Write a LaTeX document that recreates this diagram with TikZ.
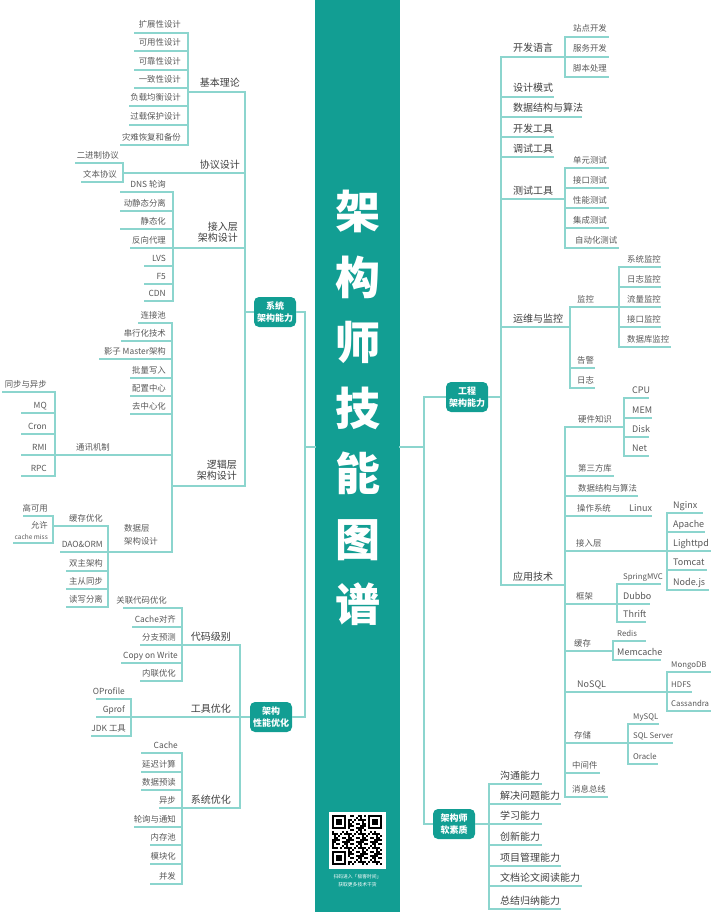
\documentclass[tikz,border=0pt]{standalone}
\usepackage{fontspec}
\setmainfont{Noto Sans CJK SC}
\definecolor{tealA}{RGB}{18,158,147}
\definecolor{lnc}{RGB}{140,213,206}
\definecolor{txtA}{RGB}{62,62,62}
\definecolor{txtB}{RGB}{88,88,88}
\tikzset{
 ln/.style={draw=lnc, line width=1.2pt, line cap=rect},
 ltwo/.style={font=\fontsize{10}{11}\selectfont, text=txtA, inner sep=0pt},
 lthree/.style={font=\fontsize{8.4}{10}\selectfont, text=txtB, inner sep=0pt},
 lthreeL/.style={font=\fontsize{9}{10}\selectfont, text=txtB, inner sep=0pt},
 lsmall/.style={font=\fontsize{7.8}{9}\selectfont, text=txtB, inner sep=0pt},
 topbox/.style={fill=tealA, rounded corners=5pt, minimum width=42pt, minimum height=30pt, text=white, font=\fontsize{9}{11.5}\selectfont\bfseries, align=center, inner sep=0pt},
}
% [style]{name}{x1}{x2}{y}{text x}{text}
\newcommand\leafL[7][lthree]{\draw[ln] (#3,#5) -- (#4,#5); \node[#1, anchor=base east] (#2) at (#6,#5-5) {#7};}
\newcommand\leafR[7][lthree]{\draw[ln] (#3,#5) -- (#4,#5); \node[#1, anchor=base west] (#2) at (#6,#5-5) {#7};}
\begin{document}
\begin{tikzpicture}[x=1pt,y=-1pt]
\useasboundingbox (0,0) rectangle (713,923);
% central band
\fill[tealA] (315,0) rectangle (400,912);
\node[font=\fontsize{45}{65.5}\selectfont\bfseries, text=white, align=center, inner sep=0pt] (title) at (357.5,408) {架\\构\\师\\技\\能\\图\\谱};

% ---------- top-level boxes ----------
\node[topbox] (sys) at (275,312) {系统\\架构能力};
\node[topbox] (perf) at (271,717) {架构\\性能优化};
\node[topbox] (eng) at (467,397) {工程\\架构能力};
\node[topbox] (soft) at (454,824) {架构师\\软素质};
\draw[ln] (sys.east) -- (305,312);
\draw[ln] (305,312) -- (305,717);
\draw[ln] (perf.east) -- (305,717);
\draw[ln] (305,447) -- (315,447);
\draw[ln] (400,447) -- (424,447);
\draw[ln] (424,397) -- (424,824);
\draw[ln] (424,397) -- (eng.west);
\draw[ln] (424,824) -- (soft.west);

% ---------- 系统架构能力 ----------
\draw[ln] (sys.west) -- (245,312);
\draw[ln] (245,92) -- (245,486);
\leafL[ltwo]{jbll}{188}{245}{92}{240}{基本理论}
\draw[ln] (188,33) -- (188,145);
\leafL{k1}{135}{188}{33}{181}{扩展性设计}
\leafL{k2}{135}{188}{51}{181}{可用性设计}
\leafL{k3}{135}{188}{70}{181}{可靠性设计}
\leafL{k4}{135}{188}{88}{181}{一致性设计}
\leafL{k5}{130}{188}{106}{181}{负载均衡设计}
\leafL{k6}{130}{188}{125}{181}{过载保护设计}
\leafL{k7}{121}{188}{145}{181}{灾难恢复和备份}

\leafL[ltwo]{xysj}{123}{245}{173}{240}{协议设计}
\draw[ln] (123,163) -- (123,182);
\leafL{x1}{76}{123}{163}{119}{二进制协议}
\leafL{x2}{82}{123}{182}{117}{文本协议}

\draw[ln] (173,248) -- (245,248);
\node[ltwo, align=right, anchor=east] (jrc) at (238,232.5) {接入层\\架构设计};
\draw[ln] (173,192) -- (173,301);
\leafL{j1}{121}{173}{192}{166}{DNS 轮询}
\leafL{j2}{121}{173}{211}{166}{动静态分离}
\leafL{j3}{121}{173}{229}{166}{静态化}
\leafL{j4}{131}{173}{248}{166}{反向代理}
\leafL{j5}{145}{173}{266}{166}{LVS}
\leafL{j6}{145}{173}{284}{166}{F5}
\leafL{j7}{145}{173}{301}{166}{CDN}

\draw[ln] (172,486) -- (245,486);
\node[ltwo, align=right, anchor=east] (ljc) at (237,470.5) {逻辑层\\架构设计};
\draw[ln] (172,323) -- (172,552);
\leafL{l1}{139}{172}{323}{166}{连接池}
\leafL{l2}{122}{172}{341}{166}{串行化技术}
\leafL{l3}{100}{172}{359}{166}{影子 Master架构}
\leafL{l4}{131}{172}{378}{166}{批量写入}
\leafL{l5}{131}{172}{396}{166}{配置中心}
\leafL{l6}{131}{172}{414}{166}{去中心化}
\draw[ln] (55,455) -- (172,455);
\node[lthree, anchor=base west] (txjz) at (76,450) {通讯机制};
\draw[ln] (55,392) -- (55,476);
\leafL{tx1}{3}{55}{392}{47}{同步与异步}
\leafL{tx2}{22}{55}{413}{47}{MQ}
\leafL{tx3}{22}{55}{434}{47}{Cron}
\leafL{tx4}{22}{55}{455}{47}{RMI}
\leafL{tx5}{22}{55}{476}{47}{RPC}

\draw[ln] (108,552) -- (172,552);
\node[lthree, font=\fontsize{8.4}{13}\selectfont, align=left, anchor=west] (sjc) at (124,534.5) {数据层\\架构设计};
\draw[ln] (108,526) -- (108,607);
\leafL{d1}{53}{108}{526}{103}{缓存优化}
\draw[ln] (53,516) -- (53,543);
\leafL{d11}{24}{53}{516}{48}{高可用}
\draw[ln] (14,543) -- (53,543);
\node[lthree, anchor=base east] (d12) at (48,528.5) {允许};
\node[font=\fontsize{6.5}{8}\selectfont, text=txtB, inner sep=0pt, anchor=base east] (d13) at (48,539.5) {cache miss};
\leafL{d2}{61}{108}{552}{103}{DAO\&ORM}
\leafL{d3}{67}{108}{571}{103}{双主架构}
\leafL{d4}{67}{108}{589}{103}{主从同步}
\leafL{d5}{67}{108}{607}{103}{读写分离}

% ---------- 架构性能优化 ----------
\draw[ln] (perf.west) -- (240,717);
\draw[ln] (240,645) -- (240,808);
\leafL[ltwo]{dmjb}{182}{240}{645}{231}{代码级别}
\draw[ln] (182,608) -- (182,681);
\leafL{c1}{124}{182}{608}{167}{关联代码优化}
\leafL{c2}{133}{182}{627}{176}{Cache对齐}
\leafL{c3}{141}{182}{645}{176}{分支预测}
\leafL{c4}{122}{182}{663}{178}{Copy on Write}
\leafL{c5}{141}{182}{681}{176}{内联优化}
\leafL[ltwo]{gjyh}{131}{240}{717}{231}{工具优化}
\draw[ln] (131,699) -- (131,736);
\leafL{g1}{97}{131}{699}{125}{OProfile}
\leafL{g2}{97}{131}{717}{125}{Gprof}
\leafL{g3}{92}{131}{736}{126}{JDK 工具}
\leafL[ltwo]{xtyh}{182}{240}{808}{231}{系统优化}
\draw[ln] (182,753) -- (182,884);
\leafL{s1}{142}{182}{753}{178}{Cache}
\leafL{s2}{142}{182}{772}{176}{延迟计算}
\leafL{s3}{142}{182}{790}{176}{数据预读}
\leafL{s4}{160}{182}{808}{176}{异步}
\leafL{s5}{135}{182}{827}{176}{轮询与通知}
\leafL{s6}{151}{182}{845}{176}{内存池}
\leafL{s7}{151}{182}{864}{176}{模块化}
\leafL{s8}{151}{182}{884}{176}{并发}

% ---------- 工程架构能力 ----------
\draw[ln] (eng.east) -- (501,397);
\draw[ln] (501,57) -- (501,585);
\leafR[ltwo]{kfyy}{501}{565}{57}{513}{开发语言}
\draw[ln] (565,37) -- (565,77);
\leafR{rk1}{565}{608}{37}{573}{站点开发}
\leafR{rk2}{565}{608}{57}{573}{服务开发}
\leafR{rk3}{565}{608}{77}{573}{脚本处理}
\leafR[ltwo]{sjms}{501}{553}{97}{513}{设计模式}
\leafR[ltwo]{sjjg}{501}{581}{117}{513}{数据结构与算法}
\leafR[ltwo]{kfgj}{501}{553}{137}{513}{开发工具}
\leafR[ltwo]{tsgj}{501}{553}{157}{513}{调试工具}
\leafR[ltwo]{csgj}{501}{565}{199}{513}{测试工具}
\draw[ln] (565,168) -- (565,248);
\leafR{rc1}{565}{608}{168}{573}{单元测试}
\leafR{rc2}{565}{608}{188}{573}{接口测试}
\leafR{rc3}{565}{608}{208}{573}{性能测试}
\leafR{rc4}{565}{608}{228}{573}{集成测试}
\leafR{rc5}{565}{618}{248}{575}{自动化测试}
\leafR[ltwo]{ywjk}{501}{570}{327}{513}{运维与监控}
\draw[ln] (570,307) -- (570,388);
\leafR{jk}{570}{619}{307}{577}{监控}
\draw[ln] (619,267) -- (619,347);
\leafR{jk1}{619}{660}{267}{627}{系统监控}
\leafR{jk2}{619}{660}{287}{627}{日志监控}
\leafR{jk3}{619}{660}{307}{627}{流量监控}
\leafR{jk4}{619}{660}{327}{627}{接口监控}
\leafR{jk5}{619}{670}{347}{627}{数据库监控}
\leafR{gj}{570}{594}{368}{577}{告警}
\leafR{rz}{570}{594}{388}{577}{日志}
\leafR[ltwo]{yyjs}{501}{565}{585}{513}{应用技术}
\draw[ln] (565,427) -- (565,797);
\leafR{yj}{565}{624}{427}{578}{硬件知识}
\draw[ln] (624,398) -- (624,456);
\leafR[lthreeL]{cpu}{624}{648}{398}{632}{CPU}
\leafR[lthreeL]{mem}{624}{651}{418}{632}{MEM}
\leafR[lthreeL]{disk}{624}{648}{437}{632}{Disk}
\leafR[lthreeL]{net}{624}{648}{456}{632}{Net}
\leafR{dsf}{565}{613}{476}{578}{第三方库}
\leafR{sjjgb}{565}{637}{496}{578}{数据结构与算法}
\leafR{czxt}{565}{615}{516}{577}{操作系统}
\leafR[lthreeL]{linux}{615}{651}{516}{629}{Linux}
\leafR{jrcb}{565}{667}{551}{576}{接入层}
\draw[ln] (667,513) -- (667,590);
\leafR[lthreeL]{ngx}{667}{702}{513}{673}{Nginx}
\leafR[lthreeL]{apc}{667}{704}{532}{673}{Apache}
\leafR[lthreeL]{lig}{667}{710}{551}{673}{Lighttpd}
\leafR[lthreeL]{tom}{667}{706}{570}{673}{Tomcat}
\leafR[lthreeL]{nodejs}{667}{708}{590}{673}{Node.js}
\leafR{kj}{565}{617}{604}{576}{框架}
\draw[ln] (617,584) -- (617,622);
\leafR[lsmall]{spr}{617}{660}{584}{623}{SpringMVC}
\leafR[lthreeL]{dub}{617}{649}{604}{623}{Dubbo}
\leafR[lthreeL]{thr}{617}{645}{622}{623}{Thrift}
\leafR{hc}{565}{613}{651}{574}{缓存}
\draw[ln] (613,641) -- (613,660);
\leafR[lsmall]{red}{613}{645}{641}{617}{Redis}
\leafR[lthreeL]{mmc}{613}{660}{660}{617}{Memcache}
\leafR[lthreeL]{nosql}{565}{667}{692}{577}{NoSQL}
\draw[ln] (667,672) -- (667,711);
\leafR[lsmall]{mgo}{667}{710}{672}{671}{MongoDB}
\leafR[lsmall]{hdfs}{667}{691}{692}{671}{HDFS}
\leafR[lsmall]{cas}{667}{710}{711}{671}{Cassandra}
\leafR{cc}{565}{628}{743}{574}{存储}
\draw[ln] (628,724) -- (628,764);
\leafR[lsmall]{mys}{628}{658}{724}{633}{MySQL}
\leafR[lsmall]{sqls}{628}{672}{743}{633}{SQL Server}
\leafR[lsmall]{ora}{628}{657}{764}{633}{Oracle}
\leafR{zjj}{565}{599}{773}{572}{中间件}
\leafR{xxzx}{565}{607}{797}{572}{消息总线}

% ---------- 架构师软素质 ----------
\draw[ln] (soft.east) -- (489,824);
\draw[ln] (489,784) -- (489,909);
\leafR[ltwo]{q1}{489}{541}{784}{500}{沟通能力}
\leafR[ltwo]{q2}{489}{560}{804}{500}{解决问题能力}
\leafR[ltwo]{q3}{489}{541}{824}{500}{学习能力}
\leafR[ltwo]{q4}{489}{541}{845}{500}{创新能力}
\leafR[ltwo]{q5}{489}{560}{866}{500}{项目管理能力}
\leafR[ltwo]{q6}{489}{581}{886}{500}{文档论文阅读能力}
\leafR[ltwo]{q7}{489}{560}{909}{500}{总结归纳能力}

% ---------- QR code ----------
\fill[white] (329,812) rectangle (386,869);
\begin{scope}[shift={(332,815)}]
 \foreach \i in {0,...,24}{\foreach \j in {0,...,24}{
   \pgfmathtruncatemacro\qv{mod(\i*\i*3+\j*7+\i*\j*5+\j*\j*2+\i,7)}
   \pgfmathtruncatemacro\qf{((\i<8 && \j<8) || (\i>16 && \j<8) || (\i<8 && \j>16)) ? 1 : 0}
   \ifnum\qf=0 \ifnum\qv<3 \fill[black] (\i*2,\j*2) rectangle ++(2,2); \fi\fi
 }}
 \foreach \px/\py in {0/0,36/0,0/36}{
   \fill[black] (\px,\py) rectangle ++(14,14);
   \fill[white] (\px+2,\py+2) rectangle ++(10,10);
   \fill[black] (\px+4,\py+4) rectangle ++(6,6);
 }
\end{scope}
\node[font=\fontsize{4.8}{6}\selectfont, text=white, inner sep=0pt] (qrtA) at (357.5,877) {扫码进入「极客时间」};
\node[font=\fontsize{4.8}{6}\selectfont, text=white, inner sep=0pt] (qrtB) at (357.5,885) {获取更多技术干货};
\end{tikzpicture}
\end{document}
